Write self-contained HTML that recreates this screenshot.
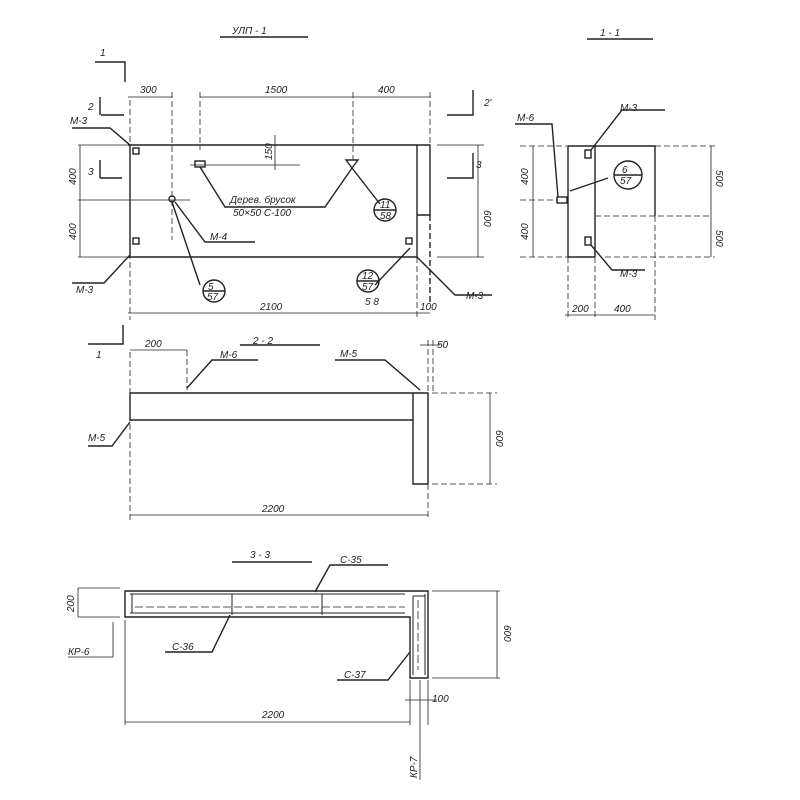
<!DOCTYPE html>
<html><head><meta charset="utf-8"><style>
html,body{margin:0;padding:0;background:#fff}
svg{display:block}
text{font-family:"Liberation Sans",sans-serif;font-style:italic;fill:#222;font-size:10px}
</style></head><body>
<svg width="800" height="800" viewBox="0 0 800 800" xmlns="http://www.w3.org/2000/svg">
<g stroke="#222" stroke-width="1.4" fill="none">
<line x1="220" y1="37" x2="308" y2="37" stroke-width="1.6"/>
<path d="M128 145 H430 V215 H417 M417 145 V257 H128 M130 145 V257"/>
<path d="M430 215 V305" stroke-dasharray="6 3"/>
<path d="M130 100 V320 M172 92 V240 M200 92 V150 M353 92 V160 M430 92 V145 M417 257 V318" stroke-width="0.8" stroke-dasharray="6 3"/>
<path d="M128 97 H172 M200 97 H430 M128 313 H430 M80 145 V257 M78 145 H128 M78 200 H190 M78 257 H128 M478 145 V257 M437 145 H484 M437 257 H484 M275 135 V170 M190 165 H300" stroke-width="0.8"/>
<path d="M95 62 H125 V82 M100 115 V97 M101 115 H124 M100 160 V178 M100 178 H122 M473 90 V115 H447 M473 153 V178 H447"/>
<rect x="133" y="148" width="6" height="6"/><rect x="133" y="238" width="6" height="6"/><rect x="406" y="238" width="6" height="6"/>
<rect x="195" y="161" width="10" height="6"/><path d="M346 160 L358 160 L352 168 Z"/>
<circle cx="172" cy="199" r="3"/>
<path d="M200 167 L225 207 H325 L352 168 L380 204 M172 202 L200 285 M175 202 L205 242 H255 M375 285 L410 248 M72 283 H104 L130 255 M72 128 H110 L130 145 M417 257 L455 295 H492"/>
<circle cx="214" cy="291" r="11"/><line x1="203" y1="291" x2="225" y2="291"/>
<circle cx="385" cy="210" r="11"/><line x1="374" y1="210" x2="396" y2="210"/>
<circle cx="368" cy="281" r="11"/><line x1="357" y1="281" x2="379" y2="281"/>
<line x1="587" y1="39" x2="653" y2="39" stroke-width="1.6"/>
<path d="M568 146 H655 V216 M568 146 V257 H595 M595 146 V257"/>
<path d="M595 216 H711 M520 146 H568 M655 146 H715 M520 257 H568 M605 257 H715 M568 257 V320 M595 257 V320 M655 216 V320 M520 200 H558" stroke-width="0.8" stroke-dasharray="6 3"/>
<path d="M533 146 V257 M711 146 V257 M565 315 H655" stroke-width="0.8"/>
<rect x="557" y="197" width="10" height="6"/>
<rect x="585" y="150" width="6" height="8"/><rect x="585" y="237" width="6" height="8"/>
<path d="M515 124 H552 L558 197 M591 150 L622 110 H665 M591 245 L612 270 H645 M570 191 L608 178"/>
<circle cx="628" cy="175" r="14"/><line x1="614" y1="175" x2="642" y2="175"/>
<line x1="240" y1="345" x2="320" y2="345" stroke-width="1.6"/>
<path d="M130 393 H428 V484 H413 V420 H130 Z M413 393 V420"/>
<path d="M130 352 V520 M187 350 V390 M428 340 V520 M433 340 V393 M432 393 H497 M432 484 H497" stroke-width="0.8" stroke-dasharray="6 3"/>
<path d="M130 350 H187 M130 515 H428 M490 393 V484 M420 345 H440" stroke-width="0.8"/>
<path d="M88 344 H123 V325"/>
<path d="M187 388 L212 360 H258 M420 390 L385 360 H335 M88 446 H112 L130 422"/>
<line x1="232" y1="562" x2="312" y2="562" stroke-width="1.6"/>
<path d="M125 591 H428 V678 H410 V617 H125 Z"/>
<path d="M130 594 H405 M130 613 H405 M132 594 V613 M232 594 V615 M322 594 V615 M413 596 V675 M425 594 V675 M413 596 H425" stroke-width="1"/>
<path d="M135 607 H405 M418 600 V670" stroke-width="0.8" stroke-dasharray="8 3"/>
<path d="M78 588 H120 M78 617 H120 M78 588 V617 M125 620 V725 M125 722 H410 M410 680 V725 M428 680 V725 M432 591 H500 M432 678 H500 M497 591 V678 M405 700 H437 M420 680 V780 M113 622 V657 H68" stroke-width="0.8"/>
<path d="M315 592 L330 565 H388 M230 615 L212 652 H165 M410 652 L388 680 H337"/>
</g>
<g>
<text x="232" y="34" font-size="13">УЛП - 1</text>
<text x="600" y="36" font-size="13">1 - 1</text>
<text x="253" y="344" font-size="14">2 - 2</text>
<text x="250" y="558" font-size="14">3 - 3</text>
<text x="100" y="56" font-size="14">1</text>
<text x="96" y="358" font-size="14">1</text>
<text x="88" y="110" font-size="11">2</text>
<text x="88" y="175" font-size="11">3</text>
<text x="476" y="168" font-size="11">3</text>
<text x="484" y="106" font-size="11">2'</text>
<text x="140" y="93">300</text>
<text x="265" y="93">1500</text>
<text x="378" y="93">400</text>
<text x="260" y="310">2100</text>
<text x="420" y="310">100</text>
<text x="70" y="124">М-3</text>
<text x="76" y="293">М-3</text>
<text x="466" y="299">М-3</text>
<text x="210" y="240">М-4</text>
<text x="230" y="203">Дерев. брусок</text>
<text x="233" y="216">50×50 С-100</text>
<text x="208" y="290" font-size="8">5</text><text x="207" y="300" font-size="8">57</text>
<text x="380" y="208" font-size="8">11</text><text x="380" y="219" font-size="8">58</text>
<text x="362" y="279" font-size="8">12</text><text x="362" y="290" font-size="8">57</text>
<text x="365" y="305">5 8</text>
<text x="620" y="111">М-3</text>
<text x="517" y="121">М-6</text>
<text x="620" y="277">М-3</text>
<text x="622" y="173" font-size="8">6</text><text x="620" y="184" font-size="8">57</text>
<text x="572" y="312">200</text>
<text x="614" y="312">400</text>
<text x="145" y="347">200</text>
<text x="220" y="358">М-6</text>
<text x="340" y="357">М-5</text>
<text x="437" y="348">50</text>
<text x="88" y="441">М-5</text>
<text x="262" y="512">2200</text>
<text x="340" y="563">С-35</text>
<text x="172" y="650">С-36</text>
<text x="344" y="678">С-37</text>
<text x="68" y="655">КР-6</text>
<text x="262" y="718">2200</text>
<text x="432" y="702">100</text>
<text transform="translate(484,210) rotate(90)">600</text>
<text transform="translate(76,185) rotate(-90)">400</text>
<text transform="translate(76,240) rotate(-90)">400</text>
<text transform="translate(528,185) rotate(-90)">400</text>
<text transform="translate(528,240) rotate(-90)">400</text>
<text transform="translate(716,170) rotate(90)">500</text>
<text transform="translate(716,230) rotate(90)">500</text>
<text transform="translate(496,430) rotate(90)">600</text>
<text transform="translate(74,612) rotate(-90)">200</text>
<text transform="translate(504,625) rotate(90)">600</text>
<text transform="translate(272,160) rotate(-90)">150</text>
<text transform="translate(417,778) rotate(-90)">КР-7</text>
</g>
</svg>
</body></html>
